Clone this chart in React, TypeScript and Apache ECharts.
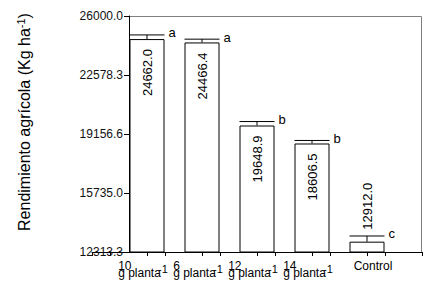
import React, { useEffect, useRef } from 'react';
import * as echarts from 'echarts';

const categories = ['10', '6', '12', '14', 'Control'];
const isDose = [true, true, true, true, false];
const positions = [1, 2, 3, 4, 5];
const yields = [24662.0, 24466.4, 19648.9, 18606.5, 12912.0];
const errors = [240, 190, 230, 175, 330];
const letters = ['a', 'a', 'b', 'b', 'c'];
const yTickLabels = ['12313.3', '15735.0', '19156.6', '22578.3', '26000.0'];
const yMin = 12313.3;
const yMax = 26000.0;
const unitLabel = 'g planta';
const yTitle = '{t|Rendimiento agrícola (Kg ha}{sup|-1}{t|)}';

const FONT = 'Arial, "Liberation Sans", sans-serif';

export default function App() {
  const ref = useRef<HTMLDivElement>(null);
  useEffect(() => {
    if (!ref.current) return;
    const chart = echarts.init(ref.current, undefined, { renderer: 'svg' });
    const yInterval = (yMax - yMin) / 4;
    const capHalf = 17.5;
    chart.setOption({
      animation: false,
      backgroundColor: '#fff',
      textStyle: { fontFamily: FONT },
      grid: [
        { left: 92, right: 9, top: 16, bottom: 38 },
        { left: 110, right: 46, top: 16, bottom: 38 },
      ],
      xAxis: [
        {
          type: 'value',
          gridIndex: 0,
          min: 0,
          max: 6,
          interval: 1,
          splitLine: { show: false },
          axisLine: { show: true, lineStyle: { color: '#000', width: 1 } },
          axisTick: { show: true, length: 4, lineStyle: { color: '#000' } },
          axisLabel: {
            show: true,
            margin: 11,
            color: '#000',
            fontFamily: FONT,
            fontSize: 12,
            hideOverlap: false,
            formatter: (v: number) => {
              const i = Math.round(v) - 1;
              if (i < 0 || i >= categories.length) return '';
              if (!isDose[i]) return `{c|${categories[i]}}`;
              return `{n|${categories[i]}}\n{s|-1}\n{g|${unitLabel}}`;
            },
            rich: {
              n: { align: 'left', fontSize: 12, lineHeight: 5, fontFamily: FONT, color: '#000' },
              s: { align: 'right', fontSize: 11, lineHeight: 1, padding: [0, 8, 0, 0], fontFamily: FONT, color: '#000' },
              g: { align: 'left', fontSize: 12, lineHeight: 8, padding: [0, 15, 0, 0], fontFamily: FONT, color: '#000' },
              c: { fontSize: 12, lineHeight: 5, padding: [0, 0, 0, 12], fontFamily: FONT, color: '#000' },
            },
          },
        },
        {
          type: 'value',
          gridIndex: 1,
          min: 0,
          max: 5,
          interval: 1,
          splitLine: { show: false },
          axisLine: { show: false },
          axisTick: { show: true, length: 4, lineStyle: { color: '#000' } },
          axisLabel: { show: false },
        },
      ],
      yAxis: [
        {
          type: 'value',
          gridIndex: 0,
          min: yMin,
          max: yMax,
          interval: yInterval,
          offset: -37,
          splitLine: { show: false },
          axisLine: { show: true, lineStyle: { color: '#000', width: 1 } },
          axisTick: { show: true, length: 5, lineStyle: { color: '#000' } },
          axisLabel: {
            margin: 6,
            color: '#111',
            fontSize: 12,
            fontFamily: FONT,
            formatter: (_v: number, idx: number) => yTickLabels[idx] ?? '',
          },
        },
        { type: 'value', gridIndex: 1, show: false, min: 0, max: 1 },
      ],
      graphic: [
        { type: 'line', shape: { x1: 129, y1: 16.5, x2: 421.5, y2: 16.5 }, style: { stroke: '#808080', lineWidth: 1 } },
        { type: 'line', shape: { x1: 421.5, y1: 16.5, x2: 421.5, y2: 252 }, style: { stroke: '#808080', lineWidth: 1 } },
        {
          type: 'text',
          x: 24,
          y: 122,
          rotation: Math.PI / 2,
          style: {
            text: yTitle,
            align: 'center',
            verticalAlign: 'middle',
            fill: '#000',
            rich: {
              t: { fontSize: 16, lineHeight: 18, fontFamily: FONT, fill: '#000' },
              sup: { fontSize: 11, lineHeight: 4, verticalAlign: 'top', fontFamily: FONT, fill: '#000' },
            },
          },
        },
      ],
      series: [
        {
          type: 'bar',
          xAxisIndex: 0,
          yAxisIndex: 0,
          barWidth: 35,
          itemStyle: { color: '#fff', borderColor: '#000', borderWidth: 1 },
          label: {
            show: true,
            position: 'insideTop',
            rotate: 90,
            align: 'right',
            verticalAlign: 'middle',
            distance: 10,
            fontSize: 13,
            fontFamily: FONT,
            color: '#000',
            formatter: (p: any) => Number(p.value[1]).toFixed(1),
          },
          data: positions.map((x, i) =>
            isDose[i]
              ? { value: [x, yields[i]] }
              : { value: [x, yields[i]], label: { position: 'top', align: 'left', distance: 12 } }
          ),
          z: 2,
        },
        {
          type: 'custom',
          xAxisIndex: 0,
          yAxisIndex: 0,
          z: 3,
          data: positions.map((x, i) => [x, yields[i], errors[i], i]),
          renderItem: (_params: any, api: any) => {
            const x = api.value(0);
            const v = api.value(1);
            const e = api.value(2);
            const i = api.value(3);
            const base = api.coord([x, v]);
            const top = api.coord([x, v + e]);
            return {
              type: 'group',
              children: [
                { type: 'line', shape: { x1: base[0], y1: base[1], x2: top[0], y2: top[1] }, style: { stroke: '#000', lineWidth: 1 } },
                { type: 'line', shape: { x1: top[0] - capHalf, y1: top[1], x2: top[0] + capHalf, y2: top[1] }, style: { stroke: '#000', lineWidth: 1 } },
                {
                  type: 'text',
                  x: top[0] + capHalf + 4,
                  y: top[1] - 2,
                  style: { text: letters[i], fill: '#000', font: `13px ${FONT}`, align: 'left', verticalAlign: 'middle' },
                },
              ],
            };
          },
        },
      ],
    });
    return () => chart.dispose();
  }, []);
  return <div ref={ref} style={{ position: 'fixed', left: 0, top: 0, width: 431, height: 290, background: '#fff' }} />;
}
